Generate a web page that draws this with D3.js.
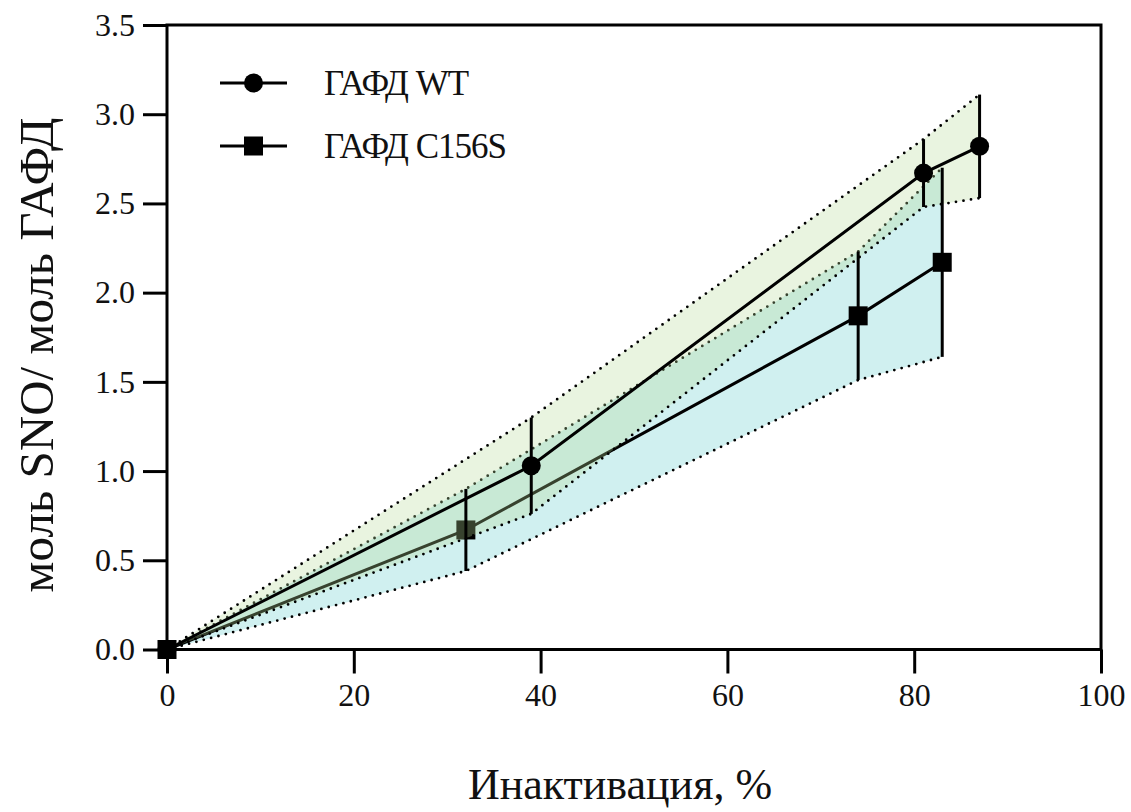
<!DOCTYPE html>
<html lang="ru">
<head>
  <meta charset="UTF-8" />
  <title>Инактивация ГАФД</title>
  <script src="https://d3js.org/d3.v7.min.js"></script>
  <style>
    html, body { margin: 0; background: #fff; }
    svg { display: block; font-family: "Liberation Serif", "DejaVu Serif", serif; }
    .axis path { display: none; }
    .axis line { stroke: #000; stroke-width: 3; }
    .axis text { font-family: "Liberation Serif", "DejaVu Serif", serif; font-size: 32px; fill: #111; }
    .frame { fill: none; stroke: #000; stroke-width: 3; }
    .dots { fill: none; stroke: #000; stroke-width: 2.8; stroke-linecap: round; stroke-dasharray: 0 7.6; }
    .mean { fill: none; stroke: #000; stroke-width: 3; }
    .err { stroke: #000; stroke-width: 3; }
  </style>
</head>
<body>
  <svg id="chart" width="1131" height="812"></svg>
  <script>
    // inactivation (%) / mean / SD for each enzyme
    const wtX = [0, 39, 81, 87];
    const wtMean = [0, 1.03, 2.67, 2.82];
    const wtSD = [0, 0.27, 0.19, 0.29];

    const mutX = [0, 32, 74, 83];
    const mutMean = [0, 0.67, 1.87, 2.17];
    const mutSD = [0, 0.23, 0.36, 0.53];

    const xTicks = [0, 20, 40, 60, 80, 100];
    const yTicks = [0, 0.5, 1.0, 1.5, 2.0, 2.5, 3.0, 3.5];
    const seriesNames = ['ГАФД WT', 'ГАФД C156S'];

    const svg = d3.select('#chart');
    const margin = { top: 25, right: 30, bottom: 162.5, left: 167 };
    const W = 1131, H = 812;

    const x = d3.scaleLinear().domain([0, 100]).range([margin.left, W - margin.right]);
    const y = d3.scaleLinear().domain([0, 3.5]).range([H - margin.bottom, margin.top]);

    const toRows = (xs, ms, sds) => xs.map((v, i) => ({ x: v, m: ms[i], sd: sds[i] }));
    const wt = toRows(wtX, wtMean, wtSD);
    const mut = toRows(mutX, mutMean, mutSD);

    const area = d3.area().x(d => x(d.x)).y0(d => y(d.m - d.sd)).y1(d => y(d.m + d.sd));
    const line = d3.line().x(d => x(d.x)).y(d => y(d.m));
    const upper = d3.line().x(d => x(d.x)).y(d => y(d.m + d.sd));
    const lower = d3.line().x(d => x(d.x)).y(d => y(d.m - d.sd));

    function drawSeries(data, fill, opacity, marker) {
      const g = svg.append('g');
      g.append('path').datum(data).attr('d', area).attr('fill', fill).attr('fill-opacity', opacity);
      g.append('path').datum(data).attr('class', 'dots').attr('d', upper);
      g.append('path').datum(data).attr('class', 'dots').attr('d', lower);
      g.append('path').datum(data).attr('class', 'mean').attr('d', line);
      if (marker === 'circle') {
        g.selectAll('circle').data(data).join('circle')
          .attr('cx', d => x(d.x)).attr('cy', d => y(d.m)).attr('r', 9.5).attr('fill', '#000');
      } else {
        g.selectAll('rect').data(data).join('rect')
          .attr('x', d => x(d.x) - 9.5).attr('y', d => y(d.m) - 9.5)
          .attr('width', 19).attr('height', 19).attr('fill', '#000');
      }
    }

    drawSeries(mut, '#d0f0f0', 1, 'square');
    drawSeries(wt, '#b6da98', 0.3, 'circle');

    // error bars on top
    svg.append('g').selectAll('line')
      .data(wt.concat(mut).filter(d => d.sd > 0))
      .join('line')
      .attr('class', 'err')
      .attr('x1', d => x(d.x)).attr('x2', d => x(d.x))
      .attr('y1', d => y(d.m - d.sd)).attr('y2', d => y(d.m + d.sd));

    // frame
    svg.append('rect').attr('class', 'frame')
      .attr('x', x(0)).attr('y', y(3.5))
      .attr('width', x(100) - x(0)).attr('height', y(0) - y(3.5));

    svg.append('g').attr('class', 'axis')
      .attr('transform', `translate(0,${y(0)})`)
      .call(d3.axisBottom(x).tickValues(xTicks).tickSize(24).tickPadding(10).tickFormat(d3.format('d')));

    svg.append('g').attr('class', 'axis')
      .attr('transform', `translate(${x(0)},0)`)
      .call(d3.axisLeft(y).tickValues(yTicks).tickSize(24).tickPadding(8).tickFormat(d3.format('.1f')));

    // axis titles
    svg.append('text')
      .attr('x', 620).attr('y', 799)
      .attr('text-anchor', 'middle')
      .attr('font-size', 44).attr('fill', '#111')
      .text('Инактивация, %');

    svg.append('text')
      .attr('transform', 'translate(53,355) rotate(-90)')
      .attr('text-anchor', 'middle')
      .attr('font-size', 49).attr('fill', '#111')
      .text('моль SNO/ моль ГАФД');

    // legend
    const legend = svg.append('g');
    const legY = [83, 146];
    const markers = ['circle', 'square'];
    seriesNames.forEach((name, i) => {
      const row = legend.append('g').attr('transform', `translate(0,${legY[i]})`);
      row.append('line').attr('x1', 220).attr('x2', 287).attr('stroke', '#000').attr('stroke-width', 3);
      if (markers[i] === 'circle') {
        row.append('circle').attr('cx', 253.5).attr('r', 9.5).attr('fill', '#000');
      } else {
        row.append('rect').attr('x', 244).attr('y', -9.5).attr('width', 19).attr('height', 19).attr('fill', '#000');
      }
      row.append('text').attr('x', 324).attr('y', 12)
        .attr('font-size', 35).attr('letter-spacing', -1).attr('fill', '#111')
        .text(name);
    });
  </script>
</body>
</html>
